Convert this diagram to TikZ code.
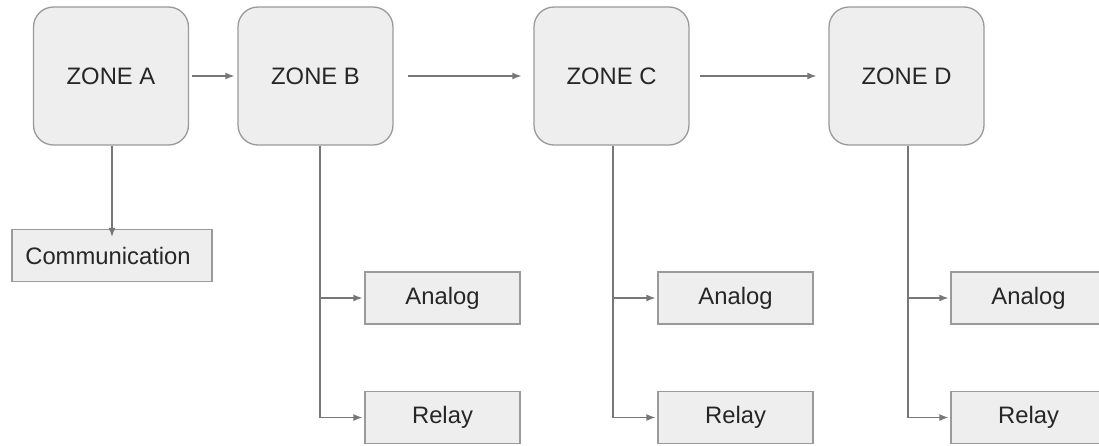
\documentclass[tikz,border=0pt]{standalone}
\usepackage{fontspec}
\setmainfont{Liberation Sans}
\usetikzlibrary{arrows.meta}
\definecolor{boxfill}{HTML}{EEEEEE}
\definecolor{boxline}{HTML}{9A9A9A}
\definecolor{arrowcol}{HTML}{777777}
\definecolor{txt}{HTML}{262626}
\tikzset{
  zonebox/.style={draw=boxline, line width=1.3pt, fill=boxfill, rounded corners=20pt,
    minimum width=155pt, minimum height=138pt, inner sep=0pt, text=txt,
    font=\fontsize{23.8}{28}\selectfont},
  leafbox/.style={draw=boxline, line width=1.3pt, fill=boxfill,
    minimum height=52pt, inner sep=0pt, text=txt,
    font=\fontsize{23.8}{28}\selectfont},
  conn/.style={draw=arrowcol, line width=1.3pt, -{Latex[length=9pt,width=7pt]}},
  trunk/.style={draw=arrowcol, line width=1.3pt}
}
\begin{document}
\begin{tikzpicture}[x=1pt,y=-1pt]
\useasboundingbox (0,0) rectangle (1099,445);
\clip (0,0) rectangle (1099,445);
\fill[white] (0,0) rectangle (1099,445);
% zones
\node[zonebox] (A) at (111,76) {ZONE A};
\node[zonebox] (B) at (315.5,76) {ZONE B};
\node[zonebox] (C) at (611.5,76) {ZONE C};
\node[zonebox] (D) at (906.5,76) {ZONE D};
% leaves
\node[leafbox, minimum width=200pt] (comm) at (112,255.5) {\hspace*{-8pt}Communication};
\node[leafbox, minimum width=155pt] (anB) at (442.5,298) {Analog};
\node[leafbox, minimum width=155pt] (reB) at (442.5,417.5) {Relay};
\node[leafbox, minimum width=155pt] (anC) at (735.5,298) {Analog};
\node[leafbox, minimum width=155pt] (reC) at (735.5,417.5) {Relay};
\node[leafbox, minimum width=155pt] (anD) at (1028.5,298) {Analog};
\node[leafbox, minimum width=155pt] (reD) at (1028.5,417.5) {Relay};
% branch points
\coordinate (bB1) at (320,298);
\coordinate (bB2) at (320,417.5);
\coordinate (bC1) at (613,298);
\coordinate (bC2) at (613,417.5);
\coordinate (bD1) at (908,298);
\coordinate (bD2) at (908,417.5);
% horizontal arrows
\draw[conn] ([xshift=3pt]A.east) -- ([xshift=-3pt]B.west);
\draw[conn] ([xshift=14pt]B.east) -- ([xshift=-12pt]C.west);
\draw[conn] ([xshift=10pt]C.east) -- ([xshift=-12pt]D.west);
% A to communication
\draw[conn] ([xshift=1pt]A.south) -- ([yshift=-8pt]comm.north);
% trunks
\draw[trunk] (B.south -| bB1) -- (bB2);
\draw[trunk] (C.south -| bC1) -- (bC2);
\draw[trunk] (D.south -| bD1) -- (bD2);
\draw[conn] (bB1) -- ([xshift=-2pt]anB.west);
\draw[conn] (bB2) -- ([xshift=-2pt]reB.west);
\draw[conn] (bC1) -- ([xshift=-2pt]anC.west);
\draw[conn] (bC2) -- ([xshift=-2pt]reC.west);
\draw[conn] (bD1) -- ([xshift=-2pt]anD.west);
\draw[conn] (bD2) -- ([xshift=-2pt]reD.west);
\end{tikzpicture}
\end{document}
